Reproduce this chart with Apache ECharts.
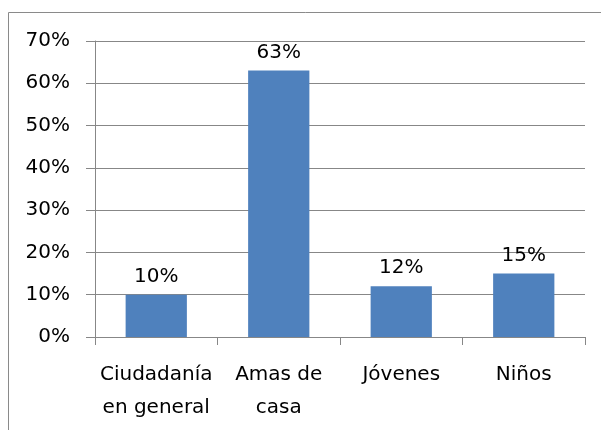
<!DOCTYPE html>
<html>
<head>
<meta charset="utf-8">
<script src="https://cdn.jsdelivr.net/npm/echarts@6/dist/echarts.min.js"></script>
<style>
  html, body { margin: 0; padding: 0; background: #fff; }
  #chart { width: 601px; height: 430px; }
</style>
</head>
<body>
<div id="chart"></div>
<script>
const categories = ['Ciudadanía\nen general', 'Amas de\ncasa', 'Jóvenes', 'Niños'];
const values = [10, 63, 12, 15];
const yTicks = [0, 10, 20, 30, 40, 50, 60, 70];

const chart = echarts.init(document.getElementById('chart'));
const font = 'DejaVu Sans';

chart.setOption({
  animation: false,
  graphic: [{
    type: 'rect',
    shape: { x: 8.5, y: 12.5, width: 700, height: 600 },
    style: { fill: 'none', stroke: '#8a8a8a', lineWidth: 1 }
  }],
  grid: { left: 95, right: 16, top: 41, bottom: 93 },
  xAxis: {
    type: 'category',
    data: categories,
    axisLine: { lineStyle: { color: '#878787', width: 1 } },
    axisTick: { show: true, length: 8, lineStyle: { color: '#878787' } },
    axisLabel: {
      color: '#000', fontFamily: font, fontSize: 20,
      lineHeight: 33, margin: 21, interval: 0
    }
  },
  yAxis: {
    type: 'value',
    min: yTicks[0],
    max: yTicks[yTicks.length - 1],
    interval: 10,
    axisLine: { show: true, lineStyle: { color: '#878787', width: 1 } },
    axisTick: { show: true, length: 9, lineStyle: { color: '#878787' } },
    splitLine: { lineStyle: { color: '#878787', width: 1 } },
    axisLabel: {
      color: '#000', fontFamily: font, fontSize: 20, margin: 25,
      formatter: v => v + '%'
    }
  },
  series: [{
    type: 'bar',
    data: values,
    barWidth: '50%',
    itemStyle: { color: '#4F81BD' },
    label: {
      show: true, position: 'top', distance: 8,
      color: '#000', fontFamily: font, fontSize: 20,
      formatter: p => p.value + '%'
    }
  }]
});
</script>
</body>
</html>
